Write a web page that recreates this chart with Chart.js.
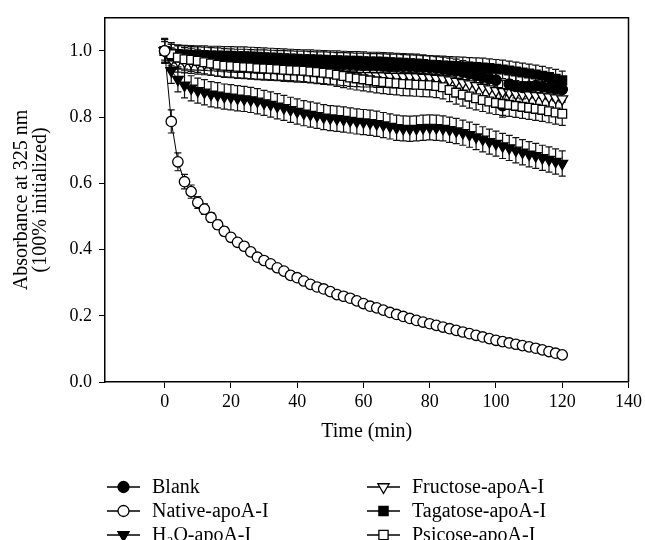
<!DOCTYPE html>
<html>
<head>
<meta charset="utf-8">
<script src="https://cdn.jsdelivr.net/npm/chart.js@4.4.1/dist/chart.umd.min.js"></script>
<style>
  body { margin: 0; background: #fff; }
  #wrap { width: 645px; height: 540px; }
</style>
</head>
<body>
<div id="wrap"><canvas id="chart" width="645" height="540"></canvas></div>
<script>
// time points (min)
const times = [
  0, 2, 4, 6, 8, 10, 12, 14, 16, 18,
  20, 22, 24, 26, 28, 30, 32, 34, 36, 38,
  40, 42, 44, 46, 48, 50, 52, 54, 56, 58,
  60, 62, 64, 66, 68, 70, 72, 74, 76, 78,
  80, 82, 84, 86, 88, 90, 92, 94, 96, 98,
  100, 102, 104, 106, 108, 110, 112, 114, 116, 118,
  120
];

const blank = [
  1.000, 0.985, 0.982, 0.980, 0.978, 0.977, 0.976, 0.975, 0.974, 0.972,
  0.971, 0.970, 0.970, 0.969, 0.968, 0.968, 0.967, 0.966, 0.966, 0.965,
  0.964, 0.964, 0.963, 0.962, 0.962, 0.961, 0.960, 0.960, 0.959, 0.958,
  0.958, 0.957, 0.957, 0.956, 0.955, 0.955, 0.954, 0.953, 0.952, 0.951,
  0.950, 0.948, 0.946, 0.943, 0.940, 0.936, 0.931, 0.926, 0.921, 0.916,
  0.912, 0.835, 0.900, 0.893, 0.890, 0.893, 0.895, 0.892, 0.889, 0.886,
  0.884
];

const native = [
  1.000, 0.787, 0.665, 0.605, 0.575, 0.542, 0.522, 0.497, 0.475, 0.455,
  0.437, 0.422, 0.410, 0.393, 0.377, 0.367, 0.357, 0.345, 0.335, 0.322,
  0.315, 0.305, 0.295, 0.287, 0.281, 0.273, 0.264, 0.259, 0.253, 0.245,
  0.237, 0.229, 0.224, 0.217, 0.210, 0.204, 0.198, 0.192, 0.186, 0.181,
  0.176, 0.171, 0.166, 0.161, 0.156, 0.151, 0.146, 0.141, 0.136, 0.131,
  0.126, 0.122, 0.118, 0.114, 0.110, 0.106, 0.102, 0.097, 0.092, 0.087,
  0.082
];

const h2o = [
  1.000, 0.940, 0.914, 0.896, 0.887, 0.880, 0.875, 0.869, 0.866, 0.862,
  0.860, 0.857, 0.855, 0.852, 0.848, 0.843, 0.838, 0.833, 0.828, 0.822,
  0.817, 0.812, 0.808, 0.804, 0.800, 0.797, 0.795, 0.793, 0.790, 0.787,
  0.785, 0.783, 0.780, 0.776, 0.772, 0.768, 0.766, 0.765, 0.766, 0.768,
  0.769, 0.768, 0.766, 0.762, 0.758, 0.753, 0.747, 0.740, 0.733, 0.726,
  0.720, 0.713, 0.707, 0.700, 0.694, 0.688, 0.683, 0.677, 0.672, 0.666,
  0.660
];

const fructose = [
  1.000, 0.975, 0.970, 0.968, 0.966, 0.964, 0.962, 0.960, 0.958, 0.956,
  0.955, 0.953, 0.952, 0.950, 0.949, 0.948, 0.947, 0.946, 0.945, 0.944,
  0.943, 0.941, 0.939, 0.937, 0.935, 0.933, 0.931, 0.929, 0.927, 0.926,
  0.925, 0.925, 0.924, 0.924, 0.923, 0.923, 0.922, 0.922, 0.921, 0.920,
  0.919, 0.917, 0.915, 0.912, 0.908, 0.904, 0.900, 0.895, 0.890, 0.885,
  0.880, 0.877, 0.874, 0.871, 0.869, 0.867, 0.865, 0.863, 0.861, 0.858,
  0.855
];

const tagatose = [
  1.000, 0.992, 0.990, 0.989, 0.988, 0.987, 0.987, 0.986, 0.986, 0.985,
  0.985, 0.984, 0.984, 0.983, 0.982, 0.981, 0.980, 0.979, 0.978, 0.977,
  0.976, 0.975, 0.975, 0.974, 0.973, 0.972, 0.972, 0.971, 0.970, 0.970,
  0.969, 0.968, 0.968, 0.967, 0.966, 0.965, 0.964, 0.963, 0.962, 0.960,
  0.958, 0.957, 0.956, 0.955, 0.954, 0.953, 0.952, 0.951, 0.950, 0.948,
  0.946, 0.944, 0.941, 0.938, 0.935, 0.932, 0.929, 0.925, 0.921, 0.916,
  0.911
];

const psicose = [
  1.000, 0.990, 0.980, 0.975, 0.973, 0.970, 0.966, 0.962, 0.958, 0.955,
  0.954, 0.952, 0.951, 0.950, 0.948, 0.947, 0.946, 0.945, 0.943, 0.942,
  0.941, 0.940, 0.938, 0.936, 0.934, 0.932, 0.928, 0.924, 0.920, 0.917,
  0.914, 0.911, 0.908, 0.906, 0.904, 0.902, 0.900, 0.899, 0.898, 0.897,
  0.896, 0.894, 0.890, 0.882, 0.874, 0.868, 0.862, 0.857, 0.852, 0.847,
  0.843, 0.840, 0.837, 0.834, 0.831, 0.828, 0.825, 0.822, 0.818, 0.814,
  0.810
];

// error bar half-lengths
const nativeErr = [
  0.000, 0.035, 0.027, 0.022, 0.020, 0.018, 0.016, 0.015, 0.014, 0.013,
  0.012, 0.011, 0.010, 0.010, 0.009, 0.009, 0.008, 0.008, 0.008, 0.007,
  0.007, 0.007, 0.007, 0.007, 0.007, 0.006, 0.006, 0.006, 0.006, 0.006,
  0.006, 0.006, 0.006, 0.006, 0.006, 0.006, 0.005, 0.005, 0.005, 0.005,
  0.005, 0.005, 0.005, 0.005, 0.005, 0.005, 0.005, 0.005, 0.005, 0.005,
  0.005, 0.005, 0.005, 0.005, 0.005, 0.005, 0.005, 0.005, 0.005, 0.005,
  0.005
];
const blankErr = 0.035;
const h2oErr = 0.038;
const fructoseErr = 0.034;
const tagatoseErr = 0.028;
const psicoseErr = 0.035;

const xTicks = [0, 20, 40, 60, 80, 100, 120, 140];
const yTicks = [0.0, 0.2, 0.4, 0.6, 0.8, 1.0];

const serif = "'Liberation Serif', 'Times New Roman', serif";

const makeSet = function(label, vals, err, pointStyle, filled, rotation, radius, order) {
    return {
        label: label,
        data: times.map((t, i) => ({ x: t, y: vals[i] })),
        errors: err,
        borderColor: '#000',
        borderWidth: 1,
        tension: 0,
        fill: false,
        pointStyle: pointStyle,
        pointRotation: rotation,
        pointRadius: radius,
        pointHoverRadius: radius,
        pointBackgroundColor: filled ? '#000' : '#fff',
        pointBorderColor: '#000',
        pointBorderWidth: 1.3,
        order: order
    };
}

// lower order = drawn on top
const datasets = [
    makeSet('Blank', blank, blankErr, 'circle', true, 0, 5.2, 3),
    makeSet('Native-apoA-I', native, nativeErr, 'circle', false, 0, 5.2, 0),
    makeSet('H\u2082O-apoA-I', h2o, h2oErr, 'triangle', true, 180, 6.2, 5),
    makeSet('Fructose-apoA-I', fructose, fructoseErr, 'triangle', false, 180, 6.2, 4),
    makeSet('Tagatose-apoA-I', tagatose, tagatoseErr, 'rect', true, 0, 6.2, 2),
    makeSet('Psicose-apoA-I', psicose, psicoseErr, 'rect', false, 0, 6.2, 1)
];

// error bars under the markers
const errorBars = {
    id: 'errorBars',
    beforeDatasetsDraw(chart) {
        const { ctx, scales: { x, y } } = chart;
        ctx.save();
        ctx.strokeStyle = '#111';
        ctx.lineWidth = 1.2;
        chart.data.datasets.forEach(ds => {
            ds.data.forEach((p, i) => {
                const e = Array.isArray(ds.errors) ? ds.errors[i] : ds.errors;
                if (!e) return;
                const px = x.getPixelForValue(p.x);
                const top = y.getPixelForValue(p.y + e);
                const bot = y.getPixelForValue(p.y - e);
                ctx.beginPath();
                ctx.moveTo(px, top); ctx.lineTo(px, bot);
                ctx.moveTo(px - 3.5, top); ctx.lineTo(px + 3.5, top);
                ctx.moveTo(px - 3.5, bot); ctx.lineTo(px + 3.5, bot);
                ctx.stroke();
            });
        });
        ctx.restore();
    }
};

// closes the frame on top and right
const frame = {
    id: 'frame',
    afterDraw(chart) {
        const { ctx, chartArea: a } = chart;
        ctx.save();
        ctx.strokeStyle = '#000';
        ctx.lineWidth = 1.5;
        ctx.beginPath();
        ctx.moveTo(a.left, a.top);
        ctx.lineTo(a.right, a.top);
        ctx.lineTo(a.right, a.bottom);
        ctx.stroke();
        ctx.restore();
    }
};

// two-column legend below the axis
const bottomLegend = {
    id: 'bottomLegend',
    afterDraw(chart) {
        const ctx = chart.ctx;
        const cols = [{ line: 107, text: 152 }, { line: 367, text: 412 }];
        const rows = [487, 511, 535];
        ctx.save();
        chart.data.datasets.forEach((ds, i) => {
            const c = cols[Math.floor(i / 3)], yy = rows[i % 3];
            ctx.strokeStyle = '#000';
            ctx.lineWidth = 1.5;
            ctx.beginPath();
            ctx.moveTo(c.line, yy);
            ctx.lineTo(c.line + 33, yy);
            ctx.stroke();
            ctx.fillStyle = ds.pointBackgroundColor;
            ctx.lineWidth = 1.3;
            Chart.helpers.drawPoint(ctx, {
                pointStyle: ds.pointStyle,
                rotation: ds.pointRotation,
                radius: ds.pointRadius + 0.3,
                borderWidth: 1.3
            }, c.line + 16.5, yy);
            ctx.fillStyle = '#000';
            ctx.font = '20px ' + serif;
            ctx.textAlign = 'left';
            ctx.textBaseline = 'middle';
            ctx.fillText(ds.label, c.text, yy + 1);
        });
        ctx.restore();
    }
};

const ctx = document.getElementById('chart').getContext('2d');
const chart = new Chart(ctx, {
    type: 'line',
    data: { datasets: datasets },
    plugins: [errorBars, frame, bottomLegend],
    options: {
        responsive: false,
        animation: false,
        devicePixelRatio: 1,
        layout: { padding: { left: 0, right: 16, top: 15, bottom: 88 } },
        plugins: { legend: { display: false }, tooltip: { enabled: false } },
        scales: {
            x: {
                type: 'linear',
                min: -18,
                max: 140,
                afterBuildTicks: s => { s.ticks = xTicks.map(v => ({ value: v })); },
                afterFit: s => { s.height = 70; },
                ticks: { color: '#000', font: { family: serif, size: 18 }, padding: 3, maxRotation: 0, autoSkip: false },
                grid: { drawOnChartArea: false, drawTicks: true, tickLength: 6, color: '#000', lineWidth: 1 },
                border: { color: '#000', width: 1.5 },
                title: { display: true, text: 'Time (min)', color: '#000', font: { family: serif, size: 20 }, padding: { top: 0, bottom: 8 } }
            },
            y: {
                min: 0,
                max: 1.1,
                afterBuildTicks: s => { s.ticks = yTicks.map(v => ({ value: v })); },
                afterFit: s => { s.width = 105; },
                ticks: { color: '#000', font: { family: serif, size: 18 }, padding: 7, callback: v => v.toFixed(1) },
                grid: { drawOnChartArea: false, drawTicks: true, tickLength: 6, color: '#000', lineWidth: 1 },
                border: { color: '#000', width: 1.5 },
                title: {
                    display: true,
                    text: ['Absorbance at 325 nm', '(100% initialized)'],
                    color: '#000',
                    font: { family: serif, size: 20, lineHeight: 0.95 },
                    padding: { top: 12, bottom: 0 }
                }
            }
        }
    }
});
</script>
</body>
</html>
